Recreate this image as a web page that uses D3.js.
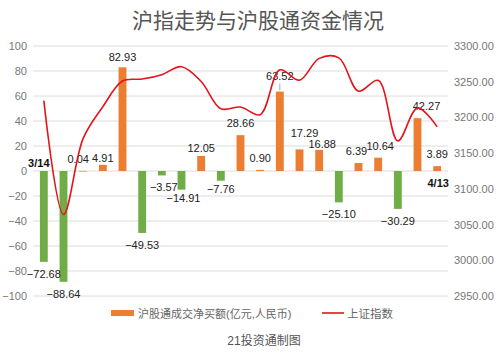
<!DOCTYPE html>
<html>
<head>
<meta charset="utf-8">
<script src="https://cdn.jsdelivr.net/npm/d3@7"></script>
<style>
  body { margin: 0; background: #fff; }
  text { font-family: "Liberation Sans", "Noto Sans CJK SC", sans-serif; }
</style>
</head>
<body>
<svg id="chart" width="499" height="355"></svg>
<script>
// trading days 3/14 .. 4/13
const dates = ['3/14','3/15','3/16','3/17','3/18','3/21','3/22','3/23','3/24','3/25','3/28',
               '3/29','3/30','3/31','4/1','4/6','4/7','4/8','4/11','4/12','4/13'];
// northbound net buy (亿元)
const netBuy = [-72.68, -88.64, 0.04, 4.91, 82.93, -49.53, -3.57, -14.91, 12.05, -7.76, 28.66,
                0.90, 63.52, 17.29, 16.88, -25.10, 6.39, 10.64, -30.29, 42.27, 3.89];
// 上证指数 close
const shIndex = [3223.5, 3064.0, 3170.7, 3215.0, 3251.1, 3253.7, 3259.9, 3271.0, 3250.3, 3212.2, 3214.5,
                 3203.9, 3266.6, 3252.2, 3282.7, 3283.4, 3236.7, 3251.9, 3167.1, 3213.3, 3186.8];
const leftTicks = [-100, -80, -60, -40, -20, 0, 20, 40, 60, 80, 100];
const rightTicks = [2950, 3000, 3050, 3100, 3150, 3200, 3250, 3300];

const svg = d3.select('#chart');
const plotTop = 46, plotBottom = 296, plotLeft = 34, plotRight = 447;

let x = d3.scaleBand().domain(dates).range([plotLeft, plotRight]).paddingInner(0.6).paddingOuter(0.3);
let yL = d3.scaleLinear().domain([-100, 100]).range([plotBottom, plotTop]);
let yR = d3.scaleLinear().domain([2950, 3300]).range([plotBottom, plotTop]);

// title
svg.append('text').attr('x', 258).attr('y', 28).attr('text-anchor', 'middle')
  .attr('fill', '#555').style('font-size', '21px').text('沪指走势与沪股通资金情况');

// grid
svg.append('g').selectAll('line').data(leftTicks).join('line')
  .attr('x1', 33).attr('x2', 448)
  .attr('y1', d => yL(d)).attr('y2', d => yL(d))
  .attr('stroke', '#dcdcdc').attr('stroke-width', 1);

// left axis
let axL = svg.append('g').attr('transform', `translate(${27},0)`)
  .call(d3.axisLeft(yL).tickValues(leftTicks).tickSize(0).tickPadding(0));
axL.select('.domain').remove();
axL.selectAll('text').attr('fill', '#777').style('font-size', '11px')
  .style('font-family', '"Liberation Sans", sans-serif');

// right axis
let axR = svg.append('g').attr('transform', `translate(${454},0)`)
  .call(d3.axisRight(yR).tickValues(rightTicks).tickSize(0).tickPadding(0).tickFormat(d3.format('.2f')));
axR.select('.domain').remove();
axR.selectAll('text').attr('fill', '#777').style('font-size', '11px')
  .style('font-family', '"Liberation Sans", sans-serif');

// bars
svg.append('g').selectAll('rect').data(netBuy).join('rect')
  .attr('x', (d, i) => x(dates[i]))
  .attr('width', x.bandwidth())
  .attr('y', d => yL(Math.max(0, d)))
  .attr('height', d => Math.max(0.6, Math.abs(yL(d) - yL(0))))
  .attr('fill', d => d >= 0 ? '#ed7d31' : '#70ad47');

// label nudges for crowded values
const nudgeX = {2: -5, 3: 0, 6: 2, 7: 2, 13: 5, 14: 3, 16: -2, 17: 2, 19: 9};
const nudgeY = {3: 5, 7: -4, 9: -4, 13: -4, 14: 6, 8: 4, 4: 2, 12: -4};

svg.append('g').selectAll('text').data(netBuy).join('text')
  .attr('x', (d, i) => x(dates[i]) + x.bandwidth() / 2 + (nudgeX[i] || 0))
  .attr('y', (d, i) => (d >= 0 ? yL(d) - 8 : yL(d) + 16) + (nudgeY[i] || 0))
  .attr('text-anchor', 'middle').attr('fill', '#222').style('font-size', '11px')
  .text(d => d3.format('.2f')(d).replace('-', '−'));

// leader for 63.52
svg.append('line')
  .attr('x1', x(dates[12]) + x.bandwidth() / 2).attr('x2', x(dates[12]) + x.bandwidth() / 2)
  .attr('y1', yL(63.52) - 1).attr('y2', yL(63.52) - 8)
  .attr('stroke', '#aaa').attr('stroke-width', 1);

// index line
let line = d3.line()
  .x((d, i) => x(dates[i]) + x.bandwidth() / 2)
  .y(d => yR(d))
  .curve(d3.curveCatmullRom.alpha(0.5));
svg.append('path').datum(shIndex)
  .attr('d', line).attr('fill', 'none').attr('stroke', '#e3141b').attr('stroke-width', 1.6);

// start / end date labels
svg.append('text').attr('x', x(dates[0]) + x.bandwidth() / 2 - 5).attr('y', 167)
  .attr('text-anchor', 'middle').attr('fill', '#111').style('font-size', '11px').style('font-weight', 'bold')
  .text(dates[0]);
svg.append('text').attr('x', x(dates[20]) + x.bandwidth() / 2 + 1).attr('y', 187)
  .attr('text-anchor', 'middle').attr('fill', '#111').style('font-size', '11px').style('font-weight', 'bold')
  .text(dates[20]);

// legend
let lg = svg.append('g');
lg.append('rect').attr('x', 111).attr('y', 310).attr('width', 23).attr('height', 6).attr('fill', '#ed7d31');
lg.append('text').attr('x', 138).attr('y', 317.5).attr('fill', '#666').style('font-size', '11px')
  .text('沪股通成交净买额(亿元,人民币)');
lg.append('line').attr('x1', 322).attr('x2', 344).attr('y1', 313).attr('y2', 313)
  .attr('stroke', '#e3141b').attr('stroke-width', 1.6);
lg.append('text').attr('x', 347).attr('y', 317.5).attr('fill', '#666').style('font-size', '11.5px')
  .text('上证指数');

// footer
svg.append('text').attr('x', 264).attr('y', 345).attr('text-anchor', 'middle')
  .attr('fill', '#555').style('font-size', '12px').text('21投资通制图');
</script>
</body>
</html>
